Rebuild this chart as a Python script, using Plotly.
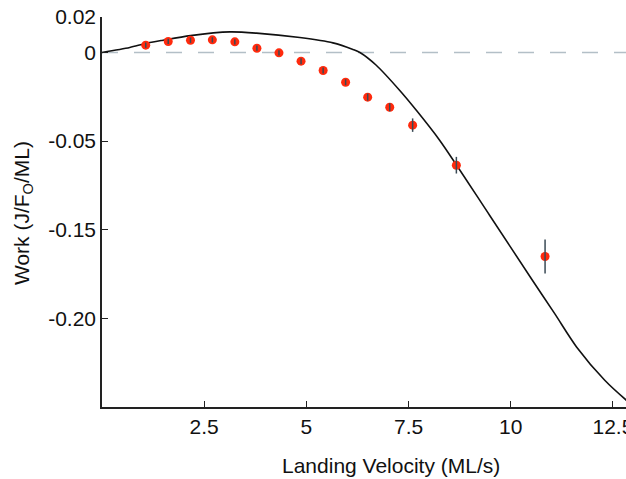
import plotly.graph_objects as go

# Measured points
vel = [1.07, 1.62, 2.165, 2.70, 3.25, 3.79, 4.33, 4.87, 5.41, 5.96, 6.50, 7.04, 7.60, 8.67, 10.84]
work = [0.0041, 0.0062, 0.0069, 0.0071, 0.0060, 0.0024, -0.0002, -0.0049, -0.0102,
        -0.0168, -0.0252, -0.0309, -0.0410, -0.0636, -0.1151]
work_err = [0.0015, 0.0015, 0.0015, 0.0015, 0.0015, 0.0015, 0.0015, 0.0017, 0.0017,
            0.0017, 0.0020, 0.0023, 0.0038, 0.0047, 0.0096]

# Model curve
model_v = [0, 0.68, 1.07, 1.49, 2.165, 3.13, 3.78, 4.84, 5.65, 6.14, 6.31, 6.71, 7.28,
           7.69, 8.26, 9.49, 10.53, 11.08, 11.61, 12.30, 12.81, 12.90]
model_w = [0, 0.0028, 0.0051, 0.0069, 0.0095, 0.0116, 0.0109, 0.0084, 0.0054, 0.0017,
           0, -0.0072, -0.0213, -0.0326, -0.0495, -0.0921, -0.1285, -0.1475, -0.1661,
           -0.1849, -0.1958, -0.1975]

ytick_vals = [0.02, 0, -0.05, -0.10, -0.15]
ytick_text = ["0.02", "0", "-0.05", "-0.15", "-0.20"]
xtick_vals = [2.5, 5, 7.5, 10, 12.5]
xtick_text = ["2.5", "5", "7.5", "10", "12.5"]

XMAX = 12.82
FONT = "Liberation Sans, Arial, Helvetica, sans-serif"

fig = go.Figure()
fig.add_shape(type="line", x0=0, x1=XMAX, y0=0, y1=0, xref="x", yref="y",
              line=dict(color="#b3bfc7", width=1.5, dash="16px,16px"), layer="below")

fig.add_trace(go.Scatter(x=model_v, y=model_w, mode="lines",
                         line=dict(color="#111111", width=1.6, shape="spline", smoothing=0.8),
                         hoverinfo="skip", showlegend=False))
fig.add_trace(go.Scatter(x=vel, y=work, mode="markers",
                         marker=dict(color="#ff2a0d", size=9, line=dict(width=0)),
                         showlegend=False))
fig.add_trace(go.Scatter(x=vel, y=work, mode="markers",
                         marker=dict(color="rgba(0,0,0,0)", size=9),
                         error_y=dict(type="data", array=work_err, visible=True,
                                      color="#3a4a55", thickness=1.5, width=0),
                         showlegend=False))

fig.update_layout(
    width=626, height=479,
    margin=dict(l=102, r=0, t=17, b=72, autoexpand=False),
    paper_bgcolor="white", plot_bgcolor="white",
    font=dict(family=FONT, size=21, color="#111111"),
    xaxis=dict(range=[0, XMAX], tickvals=xtick_vals, ticktext=xtick_text,
               ticks="inside", ticklen=6, tickwidth=1.3, tickcolor="#222",
               showline=True, linecolor="#222", linewidth=1.5, mirror=False,
               showgrid=False, zeroline=False, tickfont=dict(size=21),
               ticklabeloverflow="allow", automargin=False),
    yaxis=dict(range=[-0.20, 0.02], tickvals=ytick_vals, ticktext=ytick_text,
               ticks="inside", ticklen=6, tickwidth=1.3, tickcolor="#222",
               showline=True, linecolor="#222", linewidth=1.5, mirror=False,
               showgrid=False, zeroline=False, tickfont=dict(size=21),
               automargin=False),
    annotations=[
        dict(text="Landing Velocity (ML/s)", xref="paper", yref="paper",
             x=0.551, y=-0.151, xanchor="center", yanchor="middle",
             showarrow=False, font=dict(size=21)),
        dict(text="Work (J/F<sub>O</sub>/ML)", xref="paper", yref="paper",
             x=-0.151, y=0.497, xanchor="center", yanchor="middle", textangle=-90,
             showarrow=False, font=dict(size=21)),
    ],
)

fig.write_html("out.html", config={"displayModeBar": False},
               post_script="document.body.style.margin='0';document.body.style.overflow='hidden';")
